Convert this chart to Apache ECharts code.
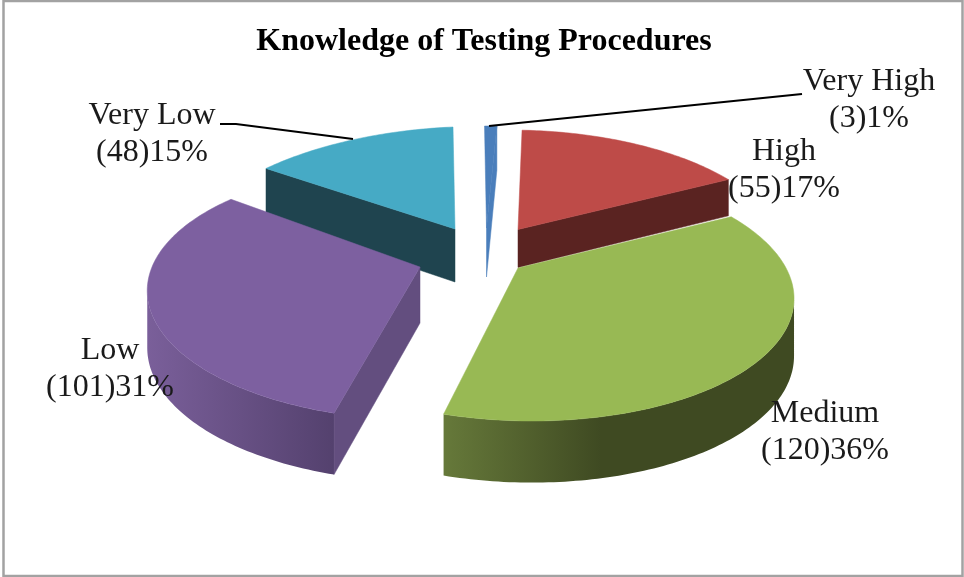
<!DOCTYPE html>
<html><head><meta charset="utf-8">
<style>html,body{margin:0;padding:0;background:#fff}#c{width:964px;height:577px}</style>
<script src="https://cdn.jsdelivr.net/npm/echarts@6/dist/echarts.min.js"></script>
</head><body><div id="c"></div>
<script>
// ---- data ----
const categories = ['Very High', 'High', 'Medium', 'Low', 'Very Low'];
const counts = [3, 55, 120, 101, 48];
const percents = [1, 17, 36, 31, 15];
const chartTitle = 'Knowledge of Testing Procedures';

// ---- drawing style and layout, per slice ----
const topColors = ['#4a7ebb', '#be4b48', '#98b954', '#7d60a0', '#46aac5'];
const edgeColors = ['#4a7ebb', '#5a2321', '#66793a', '#634e7f', '#1f444f'];
const rimStops = [
  [[0, '#4a7ebb'], [1, '#4a7ebb']],
  [[0, '#5a2321'], [1, '#5a2321']],
  [[0, '#66793a'], [0.45, '#3f4a22'], [1, '#3f4a22']],
  [[0, '#7a5f9a'], [1, '#54416e']],
  [[0, '#1f444f'], [1, '#1f444f']]
];
const apexes = [[486.5, 228], [518, 229.5], [518, 268], [420, 267], [455, 229]];
const depths = [49, 38, 56, 56, 53];
const leans = [2, 8, 14, 2, 2];
const tilts = [0, 0, 0, 0, -9];
const radii = [1, 0.975, 1, 1, 1];
const labelCenters = [[869, 100], [784, 170], [825, 432], [110, 369], [152, 134]];
const leaders = [
  [[802, 94], [489, 126]],
  null, null, null,
  [[220, 124], [236, 124], [353, 139]]
];
const RX = 268, RY = 127.5, PERSP = 0.2, FONT = '"Liberation Serif","Times New Roman",serif';

const total = counts.reduce((a, b) => a + b, 0);

function renderSlice(params, api) {
  const i = params.dataIndex;
  let before = 0;
  for (let k = 0; k < i; k++) before += counts[k];
  const a0 = before / total * 360;
  const a1 = (before + api.value(1)) / total * 360;
  const [ax, ay] = apexes[i], lean = leans[i], h = depths[i];
  const rs = radii[i];

  const proj = (deg, r) => {
    const t = deg * Math.PI / 180;
    const wx = Math.sin(t) * r, wy = -Math.cos(t) * r;
    const f = 1 + PERSP * wy;
    return {
      x: ax + RX * rs * wx * f + lean * wy,
      y: ay + RY * rs * wy * f + tilts[i] * wx,
      d: h * (1 + PERSP * 0.5 * wy)
    };
  };
  const pt = p => [p.x, p.y];
  const low = p => [p.x, p.y + p.d];

  const arc = [];
  const steps = Math.max(2, Math.ceil(a1 - a0));
  for (let s = 0; s <= steps; s++) arc.push(proj(a0 + (a1 - a0) * s / steps, 1));
  const apex = proj(0, 0);
  const children = [];
  const z = Math.round(ay * 2);

  // outer wall: only the stretch of rim that faces the viewer
  let front = [];
  for (let s = 1; s < arc.length; s++) {
    if (arc[s].x < arc[s - 1].x) {
      if (!front.length) front.push(arc[s - 1]);
      front.push(arc[s]);
    }
  }
  if (front.length > 1) {
    children.push({
      type: 'polygon', z2: z,
      shape: { points: front.map(pt).concat(front.slice().reverse().map(low)) },
      style: { fill: new echarts.graphic.LinearGradient(0, 0, 1, 0, rimStops[i].map(c => ({ offset: c[0], color: c[1] }))) }
    });
  }
  // radial walls that face the viewer
  const wall = rim => ({
    type: 'polygon', z2: z + 1,
    shape: { points: [pt(apex), pt(rim), low(rim), low(apex)] },
    style: { fill: edgeColors[i], stroke: edgeColors[i], lineWidth: 0.5 }
  });
  if (Math.sin(a0 * Math.PI / 180) < -1e-6) children.push(wall(arc[0]));
  if (Math.sin(a1 * Math.PI / 180) > 1e-6) children.push(wall(arc[arc.length - 1]));
  // top face
  children.push({
    type: 'polygon', z2: z + 2,
    shape: { points: [pt(apex)].concat(arc.map(pt)) },
    style: { fill: topColors[i], stroke: topColors[i], lineWidth: 0.5 }
  });
  // leader line
  if (leaders[i]) {
    children.push({
      type: 'polyline', z2: 3000,
      shape: { points: leaders[i] },
      style: { fill: null, stroke: '#000', lineWidth: 2 }
    });
  }
  // label
  children.push({
    type: 'text', z2: 3001,
    x: labelCenters[i][0], y: labelCenters[i][1],
    style: {
      text: categories[i] + '\n(' + api.value(1) + ')' + percents[i] + '%',
      font: '32px ' + FONT, fill: '#1a1a1a', lineHeight: 37,
      align: 'center', verticalAlign: 'middle'
    }
  });
  return { type: 'group', children };
}

const chart = echarts.init(document.getElementById('c'), null, { renderer: 'canvas' });
chart.setOption({
  animation: false,
  backgroundColor: '#fff',
  title: {
    text: chartTitle, left: 479, top: 21, textAlign: 'center',
    textStyle: { fontFamily: FONT, fontWeight: 'bold', fontSize: 32, color: '#000' }
  },
  graphic: [{
    type: 'rect', silent: true, z: -1,
    shape: { x: 3.5, y: 1, width: 959, height: 575 },
    style: { fill: '#fff', stroke: '#a2a2a2', lineWidth: 2.5 }
  }],
  series: [{
    type: 'custom', coordinateSystem: 'none', silent: true,
    data: categories.map((c, i) => [i, counts[i]]),
    renderItem: renderSlice
  }]
});
</script></body></html>
